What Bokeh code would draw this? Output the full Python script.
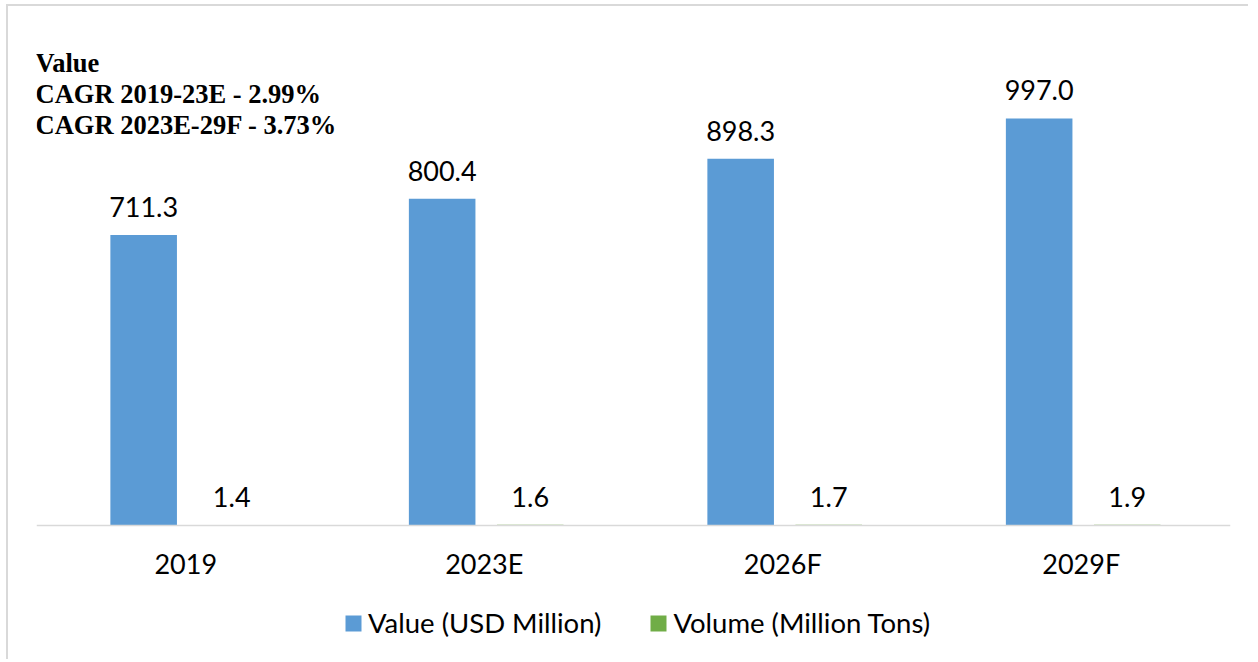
from bokeh.plotting import figure
from bokeh.models import ColumnDataSource, FactorRange, Range1d, LabelSet, Legend, LegendItem, Label
from bokeh.transform import dodge
from bokeh.core.properties import value
from bokeh.embed import file_html
from bokeh.resources import INLINE

# ---- data ----
years = ["2019", "2023E", "2026F", "2029F"]
value_usd_million = [711.3, 800.4, 898.3, 997.0]
volume_million_tons = [1.4, 1.6, 1.7, 1.9]
title_lines = ["Value", "CAGR 2019-23E - 2.99%", "CAGR 2023E-29F - 3.73%"]
series_names = ["Value (USD Million)", "Volume (Million Tons)"]

BLUE = "#5B9BD5"
GREEN = "#70AD47"
SANS = "Lato"

src = ColumnDataSource(dict(
    year=years,
    val=value_usd_million,
    vol=volume_million_tons,
    val_lbl=[f"{v:.1f}" for v in value_usd_million],
    vol_lbl=[f"{v:.1f}" for v in volume_million_tons],
))

p = figure(
    x_range=FactorRange(*years),
    y_range=Range1d(-333, 1200),
    width=1242, height=655,
    min_border_left=28, min_border_right=20, min_border_top=29, min_border_bottom=0,
    output_backend="svg", toolbar_location=None,
)
p.styles = {"border-top": "2px solid #D9D9D9", "border-left": "2px solid #D9D9D9",
            "margin-left": "6px", "margin-top": "4px"}

x_val = dodge("year", -0.141, range=p.x_range)
x_vol = dodge("year", 0.154, range=p.x_range)

r_val = p.vbar(x=x_val, top="val", width=0.223, source=src, fill_color=BLUE, line_color=None)
r_vol = p.vbar(x=x_vol, top="vol", width=0.223, source=src, fill_color=GREEN, line_color=None)

p.add_layout(LabelSet(x=x_val, y="val", text="val_lbl", source=src, text_align="center",
                      text_baseline="alphabetic", y_offset=18, text_font=value(SANS),
                      text_font_size=value("27px"), text_color="#000000"))
p.add_layout(LabelSet(x=x_vol, y="vol", text="vol_lbl", source=src, text_align="center",
                      text_baseline="alphabetic", y_offset=18, text_font=value(SANS),
                      text_font_size=value("27px"), text_color="#000000"))

for line, off in zip(title_lines, [-27, -58, -89]):
    p.add_layout(Label(x=0, y=1200, x_offset=-1, y_offset=off, text=line,
                       text_font="Liberation Serif", text_font_style="bold",
                       text_font_size="26.5px", text_color="#000000",
                       text_baseline="alphabetic", text_align="left"))

p.yaxis.visible = False
p.xgrid.visible = False
p.ygrid.visible = False
p.outline_line_color = None

ax = p.xaxis[0]
ax.fixed_location = 0
ax.axis_line_color = "#D9D9D9"
ax.axis_line_width = 1.5
ax.major_tick_line_color = None
ax.minor_tick_line_color = None
ax.major_label_standoff = 15
ax.major_label_text_font = SANS
ax.major_label_text_font_size = "27px"
ax.major_label_text_color = "#000000"

legend = Legend(
    items=[LegendItem(label=series_names[0], renderers=[r_val]),
           LegendItem(label=series_names[1], renderers=[r_vol])],
    orientation="horizontal", location=(307, 22),
    glyph_width=20, glyph_height=20, label_standoff=5, spacing=47,
    label_text_font=SANS, label_text_font_size="27.5px", label_text_color="#000000",
    border_line_color=None, background_fill_alpha=0, padding=0, margin=0,
)
p.add_layout(legend, "center")

open("out.html", "w").write(file_html(p, INLINE))
